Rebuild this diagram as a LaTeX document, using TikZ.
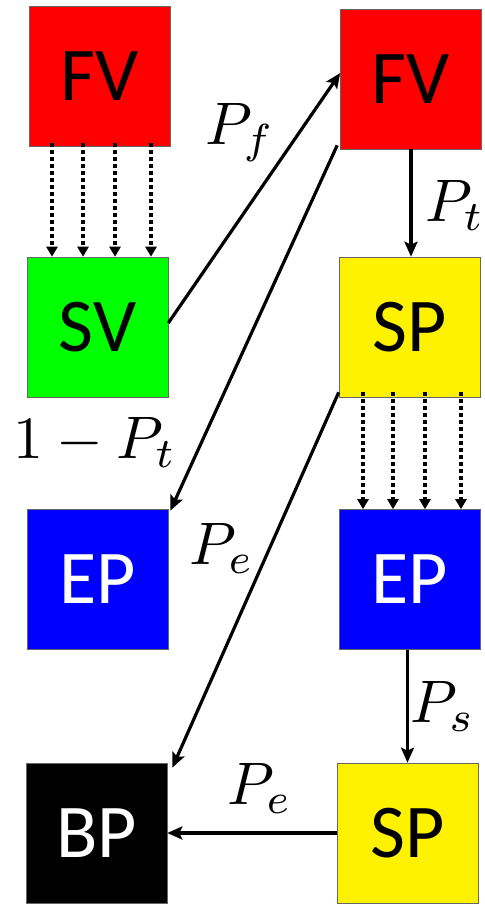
\documentclass[tikz,border=0pt]{standalone}
\usepackage{fontspec}
\setmainfont{Carlito}
\usepackage{graphicx}
\usetikzlibrary{arrows.meta}
\newcommand{\biglab}[1]{\scalebox{6}{$#1$}}
\begin{document}
\begin{tikzpicture}[x=1pt,y=-1pt,
  box/.style={draw=black!60,line width=0.6pt,inner sep=0pt,minimum width=141pt,minimum height=140pt,font=\fontsize{76}{76}\selectfont},
  solidarrow/.style={line width=3.2pt,-{Stealth[length=15pt,width=13pt,inset=3pt]}},
  dotarrow/.style={line width=3.6pt,dash pattern=on 3.5pt off 3.5pt,-{Triangle[length=10pt,width=11pt]}},
  lab/.style={inner sep=0pt}]
\useasboundingbox (0,0) rectangle (485,906);
\node[box,fill=red] (FVl) at (100,76) {FV};
\node[box,fill=red] (FVr) at (411,79) {FV};
\node[box,fill=green] (SV) at (97.5,327) {SV};
\node[box,fill=yellow] (SPr) at (409.5,327) {SP};
\node[box,fill=blue,text=white] (EPl) at (97.5,579) {EP};
\node[box,fill=blue,text=white] (EPr) at (409.5,579.5) {EP};
\node[box,fill=black,text=white] (BP) at (96.5,833) {BP};
\node[box,fill=yellow] (SPb) at (407.5,833) {SP};
% dotted arrows
\foreach \dx in {-48,-17,15,51} {
  \draw[dotarrow] ([xshift=\dx pt,yshift=3pt]FVl.south) -- ([xshift=\dx pt]FVl.south |- SV.north);
}
\foreach \dx in {-46.5,-16.5,15.5,51.5} {
  \draw[dotarrow] ([xshift=\dx pt,yshift=5pt]SPr.south) -- ([xshift=\dx pt]SPr.south |- EPr.north);
}
% solid arrows
\draw[solidarrow] ([yshift=4pt]SV.east) -- ([yshift=6pt]FVr.west);
\draw[solidarrow] (FVr.south) -- (FVr.south |- SPr.north);
\draw[solidarrow] ([xshift=-3pt,yshift=4pt]FVr.south west) -- ([xshift=2pt,yshift=-2pt]EPl.north east);
\draw[solidarrow] ([yshift=5pt]SPr.south west) -- ([xshift=5pt,yshift=-5pt]BP.north east);
\draw[solidarrow] ([xshift=-2pt]EPr.south) -- ([xshift=-2pt]EPr.south |- SPb.north);
\draw[solidarrow] (SPb.west) -- (BP.east);
% labels
\node[lab] (lPf) at (240,133) {\biglab{P_f}};
\node[lab] (lPt) at (455,205) {\biglab{P_t}};
\node[lab] (l1Pt) at (95,442) {\biglab{1-P_t}};
\node[lab] (lPe1) at (222,548) {\biglab{P_e}};
\node[lab] (lPs) at (443,706) {\biglab{P_s}};
\node[lab] (lPe2) at (260,788) {\biglab{P_e}};
\end{tikzpicture}
\end{document}
